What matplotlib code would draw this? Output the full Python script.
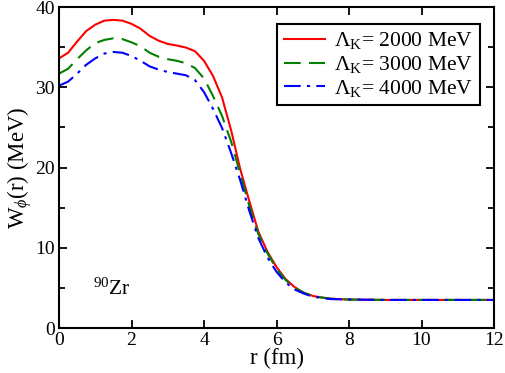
import matplotlib
matplotlib.use('Agg')
import matplotlib.pyplot as plt
from matplotlib.ticker import MultipleLocator

plt.rcParams['font.family'] = ['Liberation Serif', 'DejaVu Serif']
plt.rcParams['mathtext.fontset'] = 'custom'
plt.rcParams['mathtext.rm'] = 'Liberation Serif'
plt.rcParams['mathtext.it'] = 'Liberation Serif:italic'

# radius (fm)
r = [0.0, 0.25, 0.5, 0.75, 1.0, 1.25, 1.5, 1.75, 2.0, 2.25, 2.5, 2.75, 3.0, 3.25,
     3.5, 3.75, 4.0, 4.25, 4.5, 4.75, 5.0, 5.25, 5.5, 5.75, 6.0, 6.25, 6.5, 6.75,
     7.0, 7.25, 7.5, 8.0, 9.0, 10.0, 11.0, 12.0]

w_2000 = [33.6, 34.3, 35.7, 37.0, 37.8, 38.3, 38.4, 38.3, 37.9, 37.3, 36.4, 35.8, 35.4, 35.2,
          34.95, 34.5, 33.3, 31.4, 28.7, 24.6, 19.8, 15.8, 12.0, 9.5, 7.6, 6.1, 5.1, 4.4,
          4.0, 3.8, 3.65, 3.55, 3.5, 3.5, 3.5, 3.5]
w_3000 = [31.7, 32.3, 33.5, 34.6, 35.5, 35.9, 36.1, 36.0, 35.6, 35.1, 34.3, 33.8, 33.5, 33.3,
          33.0, 32.4, 31.1, 28.9, 26.4, 23.2, 19.2, 15.2, 11.7, 9.3, 7.4, 6.0, 5.0, 4.4,
          4.0, 3.8, 3.65, 3.55, 3.5, 3.5, 3.5, 3.5]
w_4000 = [30.2, 30.7, 31.7, 32.8, 33.6, 34.2, 34.4, 34.3, 33.9, 33.3, 32.6, 32.2, 31.9, 31.7,
          31.5, 30.9, 29.4, 27.3, 24.9, 21.8, 18.4, 14.6, 11.2, 8.8, 7.0, 5.7, 4.8, 4.3,
          3.9, 3.75, 3.6, 3.55, 3.5, 3.5, 3.5, 3.5]

labels = [r'$\Lambda_{\rm K}$= 2000 MeV', r'$\Lambda_{\rm K}$= 3000 MeV', r'$\Lambda_{\rm K}$= 4000 MeV']

fig = plt.figure(figsize=(5.06, 3.73), dpi=100)
ax = fig.add_axes([0.1166, 0.1206, 0.8597, 0.8606])

ax.plot(r, w_2000, color='red', lw=1.5, label=labels[0])
ax.plot(r, w_3000, color='green', lw=1.5, dashes=(8, 4), label=labels[1])
ax.plot(r, w_4000, color='blue', lw=1.5, dashes=(8, 3, 1.5, 3), label=labels[2])

ax.set_xlim(0, 12)
ax.set_ylim(0, 40)
ax.xaxis.set_major_locator(MultipleLocator(2))
ax.yaxis.set_major_locator(MultipleLocator(10))
ax.yaxis.set_minor_locator(MultipleLocator(5))
ax.tick_params(which='both', direction='in', top=True, right=True, labelsize=14, width=1.3, pad=3)
ax.tick_params(which='major', length=6)
ax.tick_params(which='minor', length=4)
for s in ax.spines.values():
    s.set_linewidth(1.5)

ax.set_xlabel('r (fm)', fontsize=16.5, labelpad=-1)
ax.set_ylabel(r'W$_\phi$(r) (MeV)', fontsize=16.5, labelpad=1)

ax.text(0.94, 4.1, r'$^{90}$Zr', fontsize=15.5)

leg = ax.legend(loc='upper right', bbox_to_anchor=(0.967, 0.947), fontsize=15.5,
                handlelength=1.9, borderpad=0.3, labelspacing=0.12, handletextpad=0.45,
                borderaxespad=0.0, fancybox=False, framealpha=1)
leg.get_frame().set_edgecolor('black')
leg.get_frame().set_linewidth(1.5)

fig.savefig('out.png', dpi=100)
